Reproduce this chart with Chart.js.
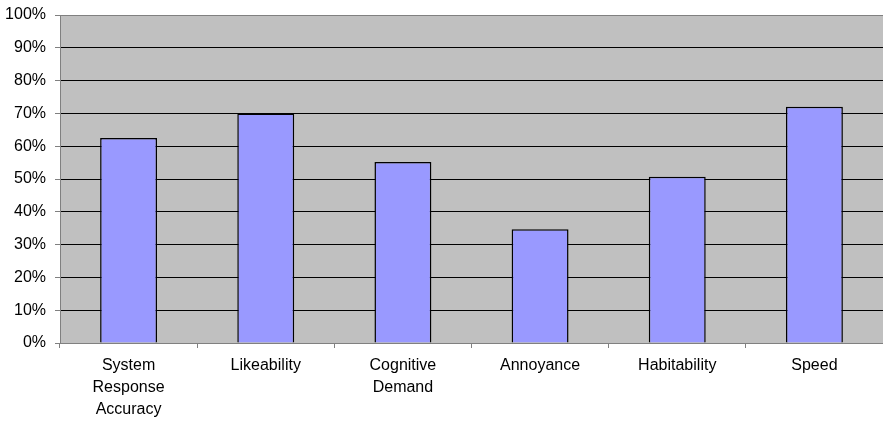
<!DOCTYPE html>
<html>
<head>
<meta charset="utf-8">
<script src="https://cdn.jsdelivr.net/npm/chart.js@4/dist/chart.umd.min.js"></script>
<style>
  html, body { margin: 0; padding: 0; background: #fff; }
  #wrap { width: 883px; height: 422px; position: relative; }
</style>
</head>
<body>
<div id="wrap"><canvas id="c" width="883" height="422"></canvas></div>
<script>
// Survey dimensions and the share of positive ratings for each (percent)
const categories = [
  ["System", "Response", "Accuracy"],
  "Likeability",
  ["Cognitive", "Demand"],
  "Annoyance",
  "Habitability",
  "Speed"
];
const scores = [62.5, 70, 55.2, 34.7, 50.7, 72];

const yMin = 0;
const yMax = 100;
const yStep = 10;

// Fill the plotting area with a grey panel before anything else is drawn
const plotBackground = {
  id: 'plotBackground',
  beforeDraw(chart) {
    const { ctx, chartArea: a } = chart;
    ctx.save();
    ctx.fillStyle = '#C0C0C0';
    ctx.fillRect(a.left, a.top, a.right - a.left, a.bottom - a.top);
    ctx.restore();
  }
};

const font = { family: '"Liberation Sans", Arial, sans-serif', size: 16 };

new Chart(document.getElementById('c'), {
  type: 'bar',
  data: {
    labels: categories,
    datasets: [{
      data: scores,
      backgroundColor: '#9999FF',
      borderColor: '#000000',
      borderWidth: 1.5,
      categoryPercentage: 1,
      barPercentage: 0.415
    }]
  },
  options: {
    responsive: false,
    animation: false,
    layout: { padding: { top: 15, right: 0, bottom: 0, left: 0 } },
    plugins: {
      legend: { display: false },
      tooltip: { enabled: false }
    },
    scales: {
      x: {
        offset: true,
        afterFit(scale) {
          scale.height = 79;
          scale.paddingLeft = 0;
          scale.paddingRight = 0;
        },
        grid: {
          display: true,
          drawOnChartArea: false,
          drawTicks: true,
          tickLength: 5,
          tickColor: '#808080',
          offset: true
        },
        border: { display: true, color: '#808080', width: 1 },
        ticks: {
          color: '#000',
          font: { ...font, lineHeight: 1.375 },
          padding: 7,
          maxRotation: 0,
          autoSkip: false
        }
      },
      y: {
        min: yMin,
        max: yMax,
        afterFit(scale) {
          scale.width = 60;
          scale.paddingTop = 0;
          scale.paddingBottom = 0;
        },
        grid: {
          color: (ctx) => (ctx.tick && ctx.tick.value === yMax) ? '#808080' : '#000000',
          lineWidth: 1,
          drawTicks: true,
          tickLength: 5,
          tickColor: '#808080'
        },
        border: { display: true, color: '#808080', width: 1 },
        ticks: {
          stepSize: yStep,
          color: '#000',
          font: font,
          padding: 9,
          callback: (v) => v + '%'
        }
      }
    }
  },
  plugins: [plotBackground]
});
</script>
</body>
</html>
